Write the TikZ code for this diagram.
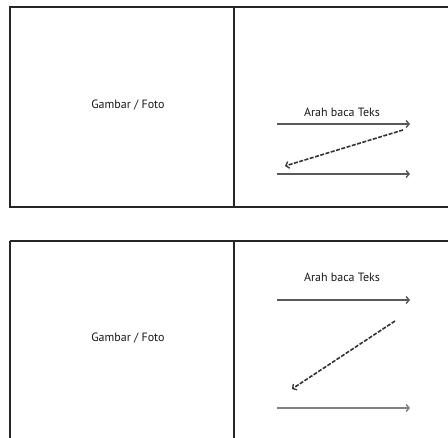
\documentclass[tikz,border=0pt]{standalone}
\usepackage{fontspec}
\setmainfont{PT Sans}
\usetikzlibrary{arrows.meta}
\begin{document}
\begin{tikzpicture}[x=1pt,y=-1pt,
  frame/.style={draw=black!85,line width=2pt},
  lbl/.style={inner sep=0pt,font=\fontsize{12}{14}\selectfont,text=black!90},
  readarrow/.style={draw=black!65,line width=2.4pt,-{Straight Barb[length=3pt,width=7pt,line width=1.4pt]}},
  backarrow/.style={draw=black!80,line width=1.6pt,dash pattern=on 4pt off 1.5pt,-{Straight Barb[length=3pt,width=7pt,line width=1.3pt]}}]
\useasboundingbox (0,0) rectangle (448,438);
\clip (0,0) rectangle (448,438);
\fill[white] (0,0) rectangle (448,438);
% top panel
\draw[frame] (9.5,7.5) rectangle (470,207.5);
\draw[frame] (234,7.5) -- (234,207.5);
% bottom panel
\draw[frame] (9.5,241) -- (470,241);
\draw[frame] (9.5,241) -- (9.5,460);
\draw[frame] (234,241) -- (234,460);
% top texts
\node[lbl] (img1) at (128,105) {Gambar / Foto};
\node[lbl] (t1) at (342,112) {Arah baca Teks};
\coordinate (a1s) at (277,124); \coordinate (a1e) at (410,124);
\coordinate (d1s) at (403,130); \coordinate (d1e) at (285,166);
\coordinate (b1s) at (277,174); \coordinate (b1e) at (410,174);
\draw[readarrow] (a1s) -- (a1e);
\draw[backarrow] (d1s) -- (d1e);
\draw[readarrow] (b1s) -- (b1e);
% bottom texts
\node[lbl] (img2) at (128,338) {Gambar / Foto};
\node[lbl] (t2) at (342,277) {Arah baca Teks};
\coordinate (a2s) at (277,300); \coordinate (a2e) at (410,300);
\coordinate (d2s) at (395,321); \coordinate (d2e) at (292,389);
\coordinate (b2s) at (277,408); \coordinate (b2e) at (410,408);
\draw[readarrow] (a2s) -- (a2e);
\draw[backarrow] (d2s) -- (d2e);
\draw[readarrow,draw=black!50] (b2s) -- (b2e);
\end{tikzpicture}
\end{document}
